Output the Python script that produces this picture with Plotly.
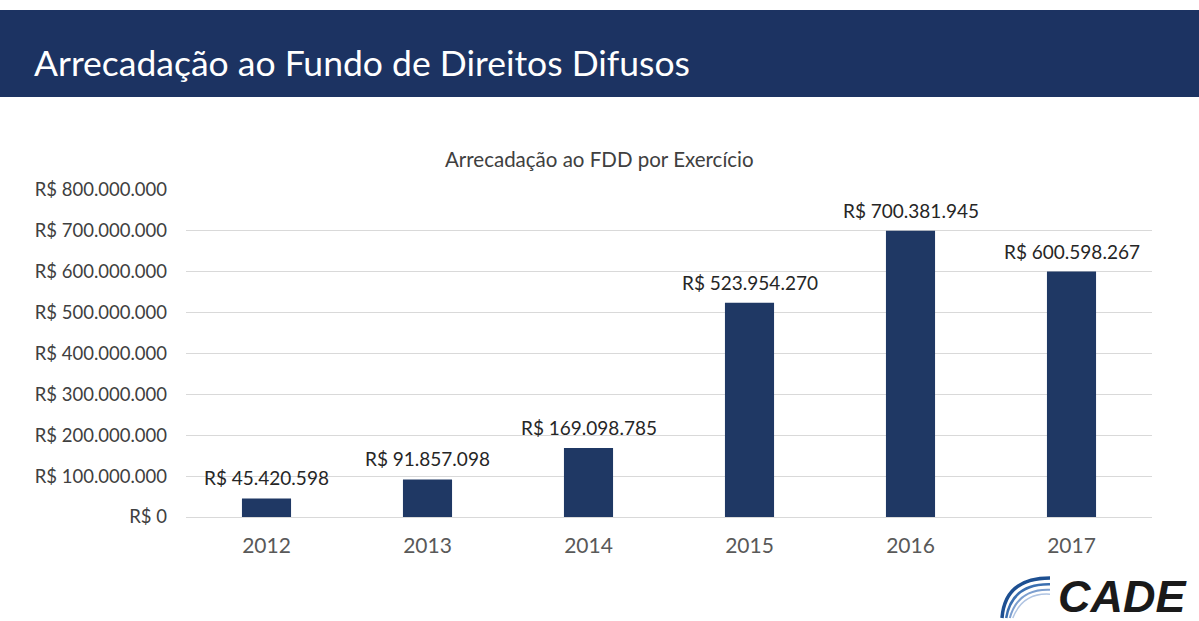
import plotly.graph_objects as go

years = ["2012", "2013", "2014", "2015", "2016", "2017"]
values = [45420598, 91857098, 169098785, 523954270, 700381945, 600598267]
value_labels = ["R$ 45.420.598", "R$ 91.857.098", "R$ 169.098.785",
                "R$ 523.954.270", "R$ 700.381.945", "R$ 600.598.267"]
y_tickvals = [0, 100000000, 200000000, 300000000, 400000000,
              500000000, 600000000, 700000000, 800000000]
y_ticktext = ["R$ 0", "R$ 100.000.000", "R$ 200.000.000", "R$ 300.000.000",
              "R$ 400.000.000", "R$ 500.000.000", "R$ 600.000.000",
              "R$ 700.000.000", "R$ 800.000.000"]

FONT = "Lato"
W, H = 1199, 621
ML, MR, MT, MB = 186, 47, 190, 104


def px_x(x):
    return (x - ML) / (W - ML - MR)


def px_y(y):
    return (H - MB - y) / (H - MT - MB)


fig = go.Figure()
fig.add_trace(go.Bar(x=list(range(len(years))), y=values, marker_color="#1f3864",
                     marker_line_width=0, hoverinfo="skip", width=0.305))

annotations = []
for i, (yv, lab) in enumerate(zip(values, value_labels)):
    annotations.append(dict(x=i, y=yv, xref="x", yref="y", text=lab,
                            showarrow=False, yanchor="bottom", yshift=7,
                            font=dict(family=FONT, size=19, color="#262626")))

annotations.append(dict(x=px_x(32), y=px_y(62), xref="paper", yref="paper",
                        text="Arrecadação ao Fundo de Direitos Difusos",
                        showarrow=False, xanchor="left", yanchor="middle",
                        font=dict(family=FONT, size=35.5, color="white")))
annotations.append(dict(x=px_x(599), y=px_y(159), xref="paper", yref="paper",
                        text="Arrecadação ao FDD por Exercício",
                        showarrow=False, xanchor="center", yanchor="middle",
                        font=dict(family=FONT, size=20.5, color="#404040")))
annotations.append(dict(x=px_x(1189), y=px_y(596), xref="paper", yref="paper",
                        text="<b><i>CADE</i></b>",
                        showarrow=False, xanchor="right", yanchor="middle",
                        font=dict(family="Liberation Sans", size=45, color="#1a1a1a")))

shapes = [
    dict(type="rect", xref="paper", yref="paper",
         x0=px_x(0), x1=px_x(W), y0=px_y(97), y1=px_y(10),
         fillcolor="#1c3362", line_width=0, layer="below"),
]
# logo swoosh arcs
arcs = [("#1d4f91", 3.5, 0), ("#3b6fb0", 2.5, 7), ("#7d9fcf", 2, 13), ("#b0c4e2", 1.5, 18)]
for c, w, off in arcs:
    x0, y0 = 1002 + off * 0.6, 618
    cx, cy = 1005 + off, 578 + off * 0.8
    x1, y1 = 1050, 578 + off * 0.9
    path = "M {} {} Q {} {} {} {}".format(px_x(x0), px_y(y0), px_x(cx), px_y(cy), px_x(x1), px_y(y1))
    shapes.append(dict(type="path", xref="paper", yref="paper", path=path,
                       line=dict(color=c, width=w)))

fig.update_layout(
    width=W, height=H,
    margin=dict(l=ML, r=MR, t=MT, b=MB, pad=0),
    paper_bgcolor="white", plot_bgcolor="white",
    showlegend=False,
    annotations=annotations, shapes=shapes,
    font=dict(family=FONT),
)
fig.update_xaxes(range=[-0.5, len(years) - 0.5], tickvals=list(range(len(years))),
                 ticktext=years, showgrid=False, showline=False, zeroline=False,
                 tickfont=dict(family=FONT, size=21, color="#595959"),
                 ticks="", ticklabelstandoff=14)
fig.update_yaxes(range=[0, 800000000], tickvals=y_tickvals, ticktext=y_ticktext,
                 showgrid=True, gridcolor="#d9d9d9", gridwidth=1,
                 zeroline=True, zerolinecolor="#d9d9d9", zerolinewidth=1,
                 showline=False, ticks="", ticklabelstandoff=18,
                 tickfont=dict(family=FONT, size=18.5, color="#404040"))

fig.write_html("out.html", config={"displayModeBar": False},
               post_script="document.body.style.margin='0';document.body.style.overflow='hidden';")
